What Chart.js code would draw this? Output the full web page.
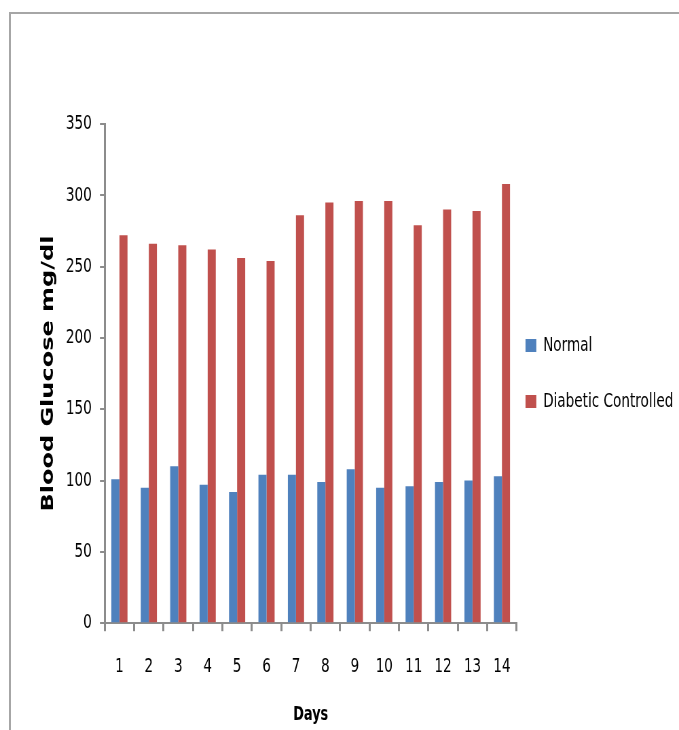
<!DOCTYPE html>
<html>
<head>
<meta charset="utf-8">
<script src="https://cdn.jsdelivr.net/npm/chart.js@4.4.0/dist/chart.umd.min.js"></script>
<style>
  html, body { margin: 0; padding: 0; background: #fff; overflow: hidden; }
  #frame { position: absolute; left: 9px; top: 12px; width: 720px; height: 760px;
           border-left: 2px solid #a6a6a6; border-top: 2px solid #a6a6a6; }
  #wrap { position: absolute; left: 0; top: 0; width: 679px; height: 730px; }
  /* the source image is squeezed sideways, so draw wide and shrink */
  #chart { width: 679px !important; height: 730px !important; }
</style>
</head>
<body>
<div id="frame"></div>
<div id="wrap"><canvas id="chart" width="1000" height="730"></canvas></div>
<script>
const days = ['1', '2', '3', '4', '5', '6', '7', '8', '9', '10', '11', '12', '13', '14'];
const normal = [101, 95, 110, 97, 92, 104, 104, 99, 108, 95, 96, 99, 100, 103];
const diabeticControlled = [272, 266, 265, 262, 256, 254, 286, 295, 296, 296, 279, 290, 289, 308];
const yTicks = [0, 50, 100, 150, 200, 250, 300, 350];

const font = "'DejaVu Sans', sans-serif";
const axisGray = '#8c8c8c';

// move the legend a bit closer to the plot, keep its row spacing
const legendShift = {
  id: 'legendShift',
  afterLayout(chart) {
    const lg = chart.legend;
    lg.left = chart.chartArea.right - 23;
    lg.right = chart.width;
  }
};

const ctx = document.getElementById('chart').getContext('2d');
const chart = new Chart(ctx, {
  type: 'bar',
  data: {
    labels: days,
    datasets: [
      { label: 'Normal', data: normal, backgroundColor: '#4f81bd' },
      { label: 'Diabetic Controlled', data: diabeticControlled, backgroundColor: '#c0504d' }
    ]
  },
  plugins: [legendShift],
  options: {
    responsive: false,
    animation: false,
    devicePixelRatio: 1,
    datasets: { bar: { categoryPercentage: 0.55, barPercentage: 1.0 } },
    layout: { padding: { left: 60, top: 124, right: 5.5, bottom: 4 } },
    plugins: {
      tooltip: { enabled: false },
      legend: {
        position: 'right',
        align: 'center',
        fullSize: false,
        labels: {
          boxWidth: 16,
          boxHeight: 13,
          padding: 36,
          color: '#000',
          font: { family: font, size: 20 }
        }
      }
    },
    scales: {
      x: {
        grid: { drawOnChartArea: false, tickLength: 8, color: axisGray, lineWidth: 3 },
        border: { color: axisGray, width: 2 },
        ticks: { color: '#000', padding: 24, maxRotation: 0, font: { family: font, size: 20 } },
        title: {
          display: true,
          text: 'Days',
          color: '#000',
          padding: 0,
          font: { family: font, size: 19, weight: 'bold' }
        }
      },
      y: {
        min: 0,
        max: 350,
        afterBuildTicks: (axis) => { axis.ticks = yTicks.map(v => ({ value: v })); },
        grid: { drawOnChartArea: false, tickLength: 7, color: axisGray, lineWidth: 2 },
        border: { color: axisGray, width: 3 },
        ticks: { color: '#000', padding: 12, font: { family: font, size: 20 } },
        title: {
          display: true,
          text: 'Blood Glucose mg/dl',
          color: '#000',
          padding: { top: 0, bottom: 1 },
          font: { family: font, size: 24, weight: 'bold', lineHeight: 1 }
        }
      }
    }
  }
});
</script>
</body>
</html>
